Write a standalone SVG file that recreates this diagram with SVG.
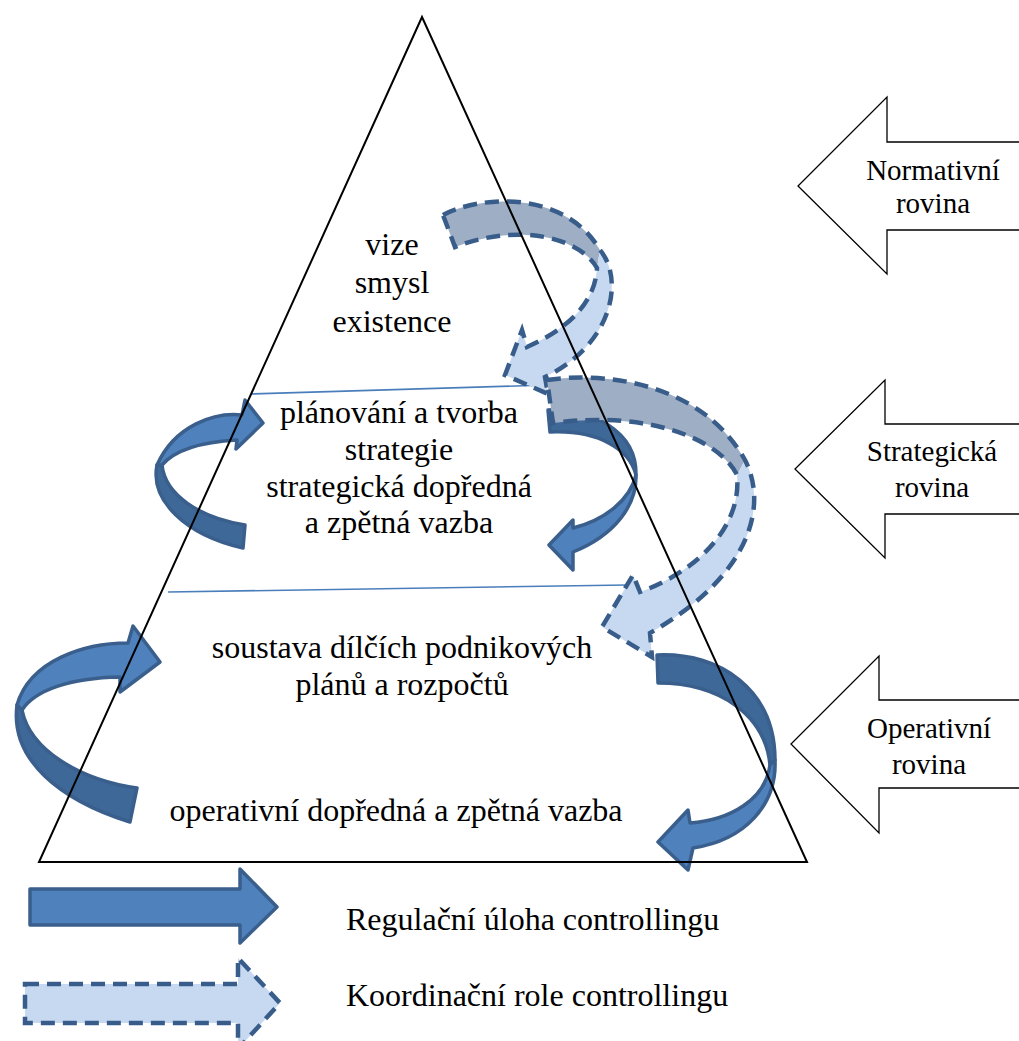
<svg xmlns="http://www.w3.org/2000/svg" width="1019" height="1041" viewBox="0 0 1019 1041">
  <style>
    .txt { font-family: "Liberation Serif", "Times New Roman", serif; font-size: 32px; fill: #000; }
    .lbl { font-family: "Liberation Serif", "Times New Roman", serif; font-size: 29px; fill: #000; text-anchor: middle; }
    .mid { text-anchor: middle; }
    .level { fill: #fff; stroke: #000; stroke-width: 1.3; }
    .divider { stroke: #4a7ebb; stroke-width: 1.6; fill: none; }
    .front { fill: #4f81bd; stroke: #3a5f8c; stroke-width: 3.5; stroke-linejoin: round; }
    .back { fill: #3d6898; stroke: #3a5f8c; stroke-width: 3.5; stroke-linejoin: round; }
    .cfront { fill: #c6d9f0; stroke: none; }
    .cback { fill: #9eaec5; stroke: none; }
    .dash { fill: none; stroke: #385d8a; stroke-width: 4.5; stroke-dasharray: 14 8; stroke-linejoin: miter; }
  </style>

  <rect x="0" y="0" width="1019" height="1041" fill="#fff"/>

  <!-- level dividers inside the pyramid -->
  <g id="dividers">
    <line class="divider" x1="251" y1="394" x2="548" y2="385"/>
    <line class="divider" x1="168" y1="592" x2="627" y2="585"/>
  </g>

  <!-- level arrows on the right -->
  <g id="level-normative">
    <path class="level" d="M1030,142 L887,142 L887,97 L798,186 L887,274 L887,230 L1030,230"/>
    <text class="lbl" x="933" y="180">Normativní</text>
    <text class="lbl" x="933" y="213">rovina</text>
  </g>
  <g id="level-strategic">
    <path class="level" d="M1030,424 L885,424 L885,380 L795,469 L885,558 L885,514 L1030,514"/>
    <text class="lbl" x="932" y="461">Strategická</text>
    <text class="lbl" x="932" y="497">rovina</text>
  </g>
  <g id="level-operative">
    <path class="level" d="M1030,700 L879,700 L879,656 L791,744 L879,833 L879,788 L1030,788"/>
    <text class="lbl" x="929" y="738">Operativní</text>
    <text class="lbl" x="929" y="774">rovina</text>
  </g>

  <!-- pyramid texts -->
  <g id="normative-content">
    <text class="txt mid" x="392" y="255">vize</text>
    <text class="txt mid" x="392" y="293">smysl</text>
    <text class="txt mid" x="392" y="332">existence</text>
  </g>
  <g id="strategic-content">
    <text class="txt mid" x="399" y="423">plánování a tvorba</text>
    <text class="txt mid" x="399" y="460">strategie</text>
    <text class="txt mid" x="399" y="497">strategická dopředná</text>
    <text class="txt mid" x="399" y="533">a zpětná vazba</text>
  </g>
  <g id="operative-content">
    <text class="txt mid" x="402" y="658">soustava dílčích podnikových</text>
    <text class="txt mid" x="402" y="695">plánů a rozpočtů</text>
    <text class="txt mid" x="396" y="821">operativní dopředná a zpětná vazba</text>
  </g>

  <!-- curved control loops -->
  <g id="connectors">
    <!-- strategic loop, right side -->
    <g id="loop-strategic-right">
      <path class="back" d="M548,410 C590,408 637,430 636,475 C630,450 600,430 550,432 Z"/>
      <path class="front" d="M636,475 C637,505 615,535 573,552 L573,570 L549,545 L573,520 L573,528 C605,520 630,500 636,475 Z"/>
    </g>
    <!-- strategic loop, left side -->
    <g id="loop-strategic-left">
      <path class="back" d="M157,465 C150,500 185,535 243,548 L245,525 C200,518 165,495 162,465 Z"/>
      <path class="front" d="M242,415 C215,412 175,425 157,465 L162,465 C175,450 200,442 237,440 L236,449 L263,423 L245,400 Z"/>
    </g>
    <!-- operative loop, left side -->
    <g id="loop-operative-left">
      <path class="back" d="M17,705 C10,760 60,800 130,822 L137,788 C80,780 30,750 22,710 Z"/>
      <path class="front" d="M128,643 C85,643 30,660 17,705 L22,710 C35,690 70,678 120,677 L120,692 L160,662 L133,626 Z"/>
    </g>
    <!-- coordination: normative to strategic -->
    <g id="coord-normative">
      <path class="cback" d="M443,215 C480,195 565,190 600,250 L597,268 C580,238 520,222 455,247 Z"/>
      <path class="cfront" d="M600,250 C625,280 612,345 545,377 L548,394 L505,375 L522,330 L527,347 C565,330 595,305 597,268 Z"/>
      <path class="dash" d="M443,215 C480,195 565,190 600,250 C625,280 612,345 545,377 L548,394 L505,375 L522,330 L527,347 C565,330 595,305 597,268 C580,238 520,222 455,247 Z"/>
    </g>
    <!-- coordination: strategic to operative -->
    <g id="coord-strategic">
      <path class="cback" d="M547,380 C600,372 700,380 745,460 L737,475 C720,440 650,410 553,423 Z"/>
      <path class="cfront" d="M745,460 C768,505 752,575 650,633 L652,657 L602,627 L633,575 L640,592 C700,570 742,525 737,475 Z"/>
      <path class="dash" d="M547,380 C600,372 700,380 745,460 C768,505 752,575 650,633 L652,657 L602,627 L633,575 L640,592 C700,570 742,525 737,475 C720,440 650,410 553,423 Z"/>
    </g>
    <!-- operative loop, right side -->
    <g id="loop-operative-right">
      <path class="back" d="M657,655 C720,652 775,690 775,760 L770,765 C765,715 720,683 658,683 Z"/>
      <path class="front" d="M775,760 C777,805 745,840 693,848 L688,870 L658,842 L688,810 L690,823 C730,820 765,800 770,765 Z"/>
    </g>
  </g>

  <!-- pyramid outline -->
  <g id="pyramid">
    <polygon points="422,17 39,862 807,862" fill="none" stroke="#000" stroke-width="2"/>
  </g>

  <!-- legend -->
  <g id="legend-regulation">
    <path class="front" d="M30,889 L240,889 L240,869 L277,907 L240,943 L240,925 L30,925 Z"/>
    <text class="txt" x="346" y="930">Regulační úloha controllingu</text>
  </g>
  <g id="legend-coordination">
    <path class="cfront" d="M25,984 L238,984 L238,958 L280,1003 L238,1049 L238,1023 L25,1023 Z"/>
    <path class="dash" d="M25,984 L238,984 L238,958 L280,1003 L238,1049 L238,1023 L25,1023 Z"/>
    <text class="txt" x="346" y="1006">Koordinační role controllingu</text>
  </g>
</svg>
